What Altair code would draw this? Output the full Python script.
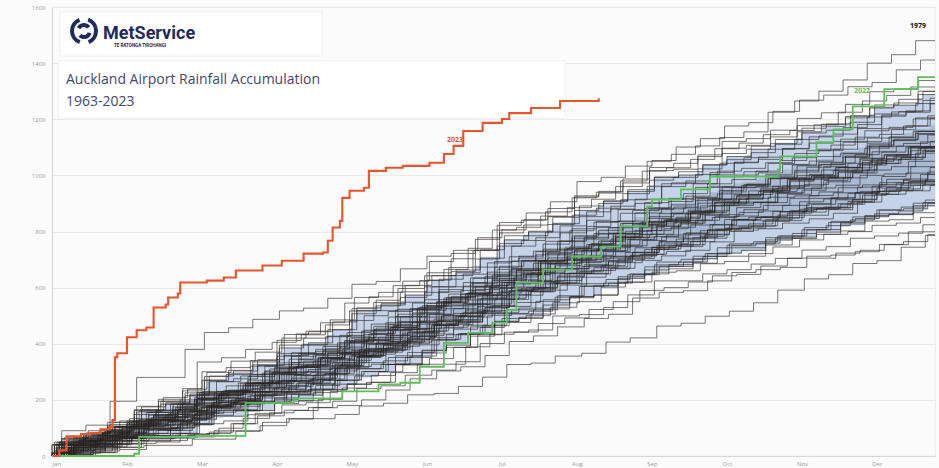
import altair as alt
import numpy as np
import pandas as pd

# ---------------------------------------------------------------------------
# Auckland Airport rain record, summarised as dekadal totals (three periods a
# month, 36 a year) for every complete year 1963-2021.
# ---------------------------------------------------------------------------
YEARS = list(range(1963, 2022))

# first day (day-of-year, 0-based) of each dekad
DEKAD_START = [0, 10, 20, 31, 41, 51, 59, 69, 79, 90, 100, 110,
               120, 130, 140, 151, 161, 171, 181, 191, 201, 212, 222, 232,
               243, 253, 263, 273, 283, 293, 304, 314, 324, 334, 344, 354]

# day within each dekad on which that year's main fall arrived
STORM_OFFSET = [3, 8, 5, 1, 9, 6, 2, 7, 4, 0, 6, 2, 9, 4, 1, 7, 3, 8, 5, 0,
                4, 9, 2, 6, 8, 1, 5, 3, 7, 0, 2, 7, 4, 9, 6, 3, 8, 1, 5, 0,
                8, 3, 6, 1, 9, 4, 7, 2, 5, 0, 5, 1, 8, 3, 6, 9, 2, 7, 4]

RAIN_1960S = [
    [12, 46, 12, 4, 18, 53, 30, 8, 33, 50, 20, 8, 62, 15, 35, 40, 22, 88, 25, 15, 71, 30, 40, 12, 55, 11, 25, 20, 18, 44, 5, 14, 50, 28, 12, 48],  # 1963
    [3, 15, 5, 30, 10, 5, 22, 0, 30, 12, 40, 8, 20, 35, 40, 28, 15, 40, 50, 20, 32, 30, 15, 58, 20, 6, 35, 30, 10, 8, 40, 4, 12, 26, 10, 25],     # 1964
    [40, 5, 20, 50, 12, 18, 35, 20, 30, 40, 30, 42, 25, 48, 20, 70, 20, 35, 58, 30, 50, 42, 25, 36, 33, 17, 40, 24, 30, 16, 30, 40, 12, 41, 20, 15],  # 1965
    [20, 10, 12, 25, 30, 14, 50, 10, 18, 35, 12, 38, 42, 55, 20, 38, 30, 36, 40, 12, 44, 60, 10, 28, 30, 10, 35, 45, 7, 20, 38, 5, 20, 30, 28, 20],  # 1966
    [50, 8, 40, 22, 45, 25, 40, 8, 65, 30, 25, 30, 60, 20, 42, 75, 20, 50, 40, 22, 78, 45, 40, 20, 60, 12, 30, 45, 10, 38, 20, 6, 60, 30, 14, 50],  # 1967
    [30, 10, 65, 70, 15, 30, 45, 10, 48, 110, 10, 35, 50, 10, 70, 35, 10, 82, 50, 16, 50, 40, 18, 40, 45, 7, 36, 30, 14, 30, 40, 10, 28, 30, 8, 40],  # 1968
    [10, 5, 25, 5, 5, 30, 35, 10, 22, 40, 10, 38, 20, 8, 62, 50, 20, 40, 45, 10, 48, 30, 5, 60, 30, 12, 28, 20, 10, 45, 15, 5, 35, 20, 8, 40],     # 1969
]
RAIN_1970S = [
    [40, 10, 30, 35, 10, 22, 30, 8, 60, 20, 8, 52, 55, 15, 45, 48, 10, 75, 40, 8, 66, 45, 10, 38, 40, 10, 44, 25, 5, 52, 30, 5, 28, 36, 10, 38],   # 1970
    [90, 20, 85, 85, 0, 100, 60, 17, 30, 30, 10, 35, 50, 10, 45, 45, 10, 50, 60, 10, 40, 45, 10, 50, 30, 5, 45, 30, 10, 30, 40, 5, 28, 30, 10, 50],  # 1971
    [8, 30, 27, 52, 8, 15, 12, 45, 28, 42, 20, 35, 38, 52, 18, 25, 40, 45, 60, 15, 40, 12, 48, 37, 38, 20, 30, 10, 35, 18, 30, 22, 10, 35, 5, 45],  # 1972
    [0, 12, 20, 35, 0, 8, 10, 30, 28, 20, 10, 22, 45, 10, 38, 18, 30, 65, 40, 8, 50, 5, 25, 45, 50, 0, 25, 15, 20, 20, 30, 12, 30, 8, 10, 30],     # 1973
    [40, 15, 35, 20, 50, 40, 25, 8, 50, 30, 32, 45, 50, 30, 50, 15, 30, 70, 58, 12, 50, 48, 30, 45, 25, 15, 52, 45, 10, 20, 18, 30, 36, 30, 12, 30],  # 1974
    [35, 0, 18, 8, 20, 50, 40, 15, 10, 25, 30, 38, 12, 50, 45, 60, 10, 35, 20, 30, 58, 40, 20, 28, 16, 20, 30, 42, 5, 20, 15, 20, 40, 28, 12, 20],  # 1975
    [30, 12, 60, 10, 20, 38, 45, 20, 28, 48, 15, 40, 10, 30, 72, 55, 35, 25, 40, 28, 45, 22, 38, 52, 35, 10, 38, 40, 25, 25, 8, 20, 45, 38, 24, 20],  # 1976
    [28, 30, 15, 20, 5, 50, 38, 22, 20, 10, 20, 60, 48, 15, 40, 60, 20, 40, 30, 22, 70, 38, 10, 35, 22, 20, 35, 30, 15, 25, 25, 0, 38, 10, 20, 45],  # 1977
    [60, 10, 15, 40, 25, 10, 30, 15, 40, 45, 8, 30, 45, 20, 50, 22, 20, 78, 55, 35, 25, 30, 20, 42, 48, 20, 20, 35, 10, 35, 30, 25, 15, 35, 20, 22],  # 1978
    [50, 20, 50, 45, 30, 45, 60, 15, 25, 72, 20, 35, 50, 30, 50, 45, 30, 60, 90, 18, 30, 50, 20, 40, 70, 25, 30, 30, 20, 70, 40, 35, 40, 60, 30, 50],  # 1979
]
RAIN_1980S = [
    [20, 5, 30, 15, 30, 12, 50, 0, 28, 6, 30, 45, 30, 25, 30, 60, 20, 28, 42, 15, 50, 35, 10, 30, 30, 15, 30, 28, 10, 25, 22, 30, 10, 30, 5, 20],   # 1980
    [45, 10, 20, 55, 8, 20, 20, 20, 62, 35, 30, 20, 70, 8, 30, 25, 30, 68, 50, 20, 38, 15, 30, 60, 38, 20, 22, 35, 28, 20, 10, 20, 45, 32, 15, 25],  # 1981
    [10, 0, 22, 30, 0, 12, 5, 20, 35, 20, 8, 40, 40, 20, 35, 30, 0, 62, 45, 8, 30, 20, 30, 28, 40, 10, 20, 22, 5, 30, 28, 0, 18, 10, 20, 46],      # 1982
    [38, 25, 30, 25, 10, 50, 45, 5, 30, 68, 12, 28, 55, 35, 40, 48, 20, 40, 72, 20, 30, 58, 20, 25, 50, 8, 30, 42, 10, 20, 45, 5, 30, 40, 20, 28],  # 1983
    [65, 20, 20, 50, 30, 42, 38, 20, 35, 48, 12, 50, 70, 15, 30, 85, 18, 40, 60, 30, 42, 50, 20, 25, 55, 10, 30, 35, 20, 30, 42, 10, 20, 48, 15, 25],  # 1984
    [30, 15, 10, 45, 0, 18, 55, 10, 30, 30, 20, 28, 50, 22, 40, 40, 30, 40, 45, 15, 40, 38, 20, 30, 35, 12, 30, 28, 6, 30, 30, 10, 15, 38, 10, 20],  # 1985
    [8, 48, 14, 38, 40, 15, 12, 18, 60, 45, 10, 25, 20, 48, 52, 15, 30, 62, 58, 8, 40, 26, 40, 40, 10, 45, 40, 38, 0, 30, 12, 30, 35, 30, 15, 30],  # 1986
    [20, 35, 70, 30, 30, 15, 10, 50, 35, 50, 18, 40, 42, 30, 50, 25, 40, 50, 70, 20, 35, 8, 40, 62, 40, 20, 35, 15, 30, 38, 35, 20, 28, 10, 30, 36],  # 1987
    [50, 5, 30, 40, 20, 40, 150, 15, 30, 25, 30, 40, 70, 22, 40, 18, 40, 75, 65, 10, 40, 30, 30, 45, 55, 12, 30, 38, 20, 30, 15, 20, 45, 40, 20, 30],  # 1988
    [15, 20, 42, 20, 0, 30, 48, 15, 40, 8, 30, 45, 60, 10, 30, 22, 50, 48, 55, 12, 50, 40, 5, 30, 18, 30, 30, 40, 8, 20, 35, 10, 20, 25, 12, 30],   # 1989
]
RAIN_1990S = [
    [42, 30, 30, 15, 20, 28, 55, 5, 35, 30, 32, 48, 38, 40, 30, 58, 20, 45, 18, 30, 72, 55, 15, 25, 20, 30, 45, 35, 12, 30, 30, 20, 28, 38, 20, 25],  # 1990
    [28, 5, 30, 50, 10, 12, 40, 2, 30, 18, 30, 55, 45, 25, 35, 50, 12, 30, 68, 10, 30, 22, 30, 48, 35, 15, 25, 10, 20, 38, 25, 2, 30, 40, 10, 20],  # 1991
    [40, 0, 28, 45, 20, 40, 35, 8, 40, 40, 20, 35, 30, 32, 45, 70, 10, 40, 30, 30, 55, 42, 18, 40, 20, 25, 38, 40, 12, 20, 38, 12, 30, 30, 15, 25],  # 1992
    [15, 10, 20, 22, 5, 35, 35, 0, 20, 45, 10, 20, 20, 30, 42, 38, 20, 40, 52, 15, 30, 40, 10, 45, 30, 18, 20, 25, 0, 40, 28, 10, 12, 35, 5, 25],   # 1993
    [5, 20, 18, 38, 10, 20, 45, 5, 30, 28, 20, 30, 42, 28, 30, 45, 22, 30, 10, 30, 60, 48, 15, 20, 42, 10, 20, 35, 8, 20, 30, 18, 20, 25, 10, 25],   # 1994
    [60, 20, 25, 72, 8, 30, 55, 35, 30, 50, 12, 30, 80, 28, 30, 62, 30, 45, 55, 28, 40, 50, 25, 35, 48, 10, 30, 55, 15, 20, 42, 20, 30, 38, 15, 30],  # 1995
    [35, 30, 20, 42, 10, 20, 48, 25, 30, 40, 32, 30, 50, 35, 30, 48, 18, 40, 70, 15, 30, 55, 20, 30, 42, 18, 30, 38, 12, 20, 40, 15, 20, 45, 18, 20],  # 1996
    [22, 15, 25, 18, 0, 35, 30, 20, 25, 38, 8, 20, 55, 15, 25, 62, 20, 25, 50, 8, 30, 58, 12, 30, 35, 10, 20, 40, 5, 20, 30, 15, 20, 22, 10, 30],   # 1997
    [20, 30, 38, 60, 15, 30, 10, 30, 58, 65, 10, 30, 25, 30, 72, 60, 20, 30, 32, 30, 70, 45, 25, 30, 20, 30, 42, 38, 18, 30, 35, 10, 30, 15, 30, 42],  # 1998
    [38, 5, 20, 30, 25, 30, 42, 8, 30, 20, 30, 45, 35, 28, 40, 55, 18, 30, 60, 12, 40, 40, 15, 30, 38, 12, 30, 35, 10, 20, 28, 20, 20, 35, 8, 30],  # 1999
]
RAIN_2000S = [
    [15, 30, 35, 28, 20, 30, 60, 12, 20, 45, 25, 30, 18, 30, 62, 70, 15, 25, 55, 20, 40, 20, 30, 45, 40, 18, 30, 35, 12, 30, 38, 10, 20, 40, 15, 30],  # 2000
    [30, 10, 30, 35, 5, 20, 38, 20, 30, 12, 30, 35, 60, 15, 30, 22, 30, 62, 48, 25, 30, 42, 20, 30, 35, 8, 30, 30, 15, 20, 32, 8, 20, 35, 10, 20],  # 2001
    [40, 25, 30, 30, 12, 30, 35, 18, 30, 60, 8, 30, 22, 30, 58, 65, 25, 30, 20, 30, 68, 45, 12, 30, 48, 10, 30, 38, 15, 30, 35, 10, 30, 32, 12, 30],  # 2002
    [52, 10, 20, 48, 25, 30, 40, 5, 30, 58, 20, 30, 32, 30, 45, 72, 30, 30, 52, 28, 30, 62, 15, 30, 40, 20, 30, 42, 5, 30, 38, 15, 30, 30, 10, 30],  # 2003
    [45, 32, 30, 55, 40, 30, 38, 20, 30, 45, 30, 30, 58, 35, 30, 55, 40, 30, 75, 20, 30, 60, 25, 30, 48, 12, 30, 40, 20, 30, 35, 12, 30, 38, 18, 30],  # 2004
    [28, 5, 30, 40, 10, 20, 45, 8, 30, 35, 22, 30, 48, 25, 30, 60, 12, 30, 50, 28, 30, 40, 18, 30, 32, 10, 30, 35, 8, 20, 30, 15, 20, 28, 15, 20],  # 2005
    [38, 15, 30, 50, 8, 20, 42, 25, 30, 40, 18, 30, 65, 10, 30, 58, 40, 30, 52, 30, 30, 48, 10, 30, 45, 12, 30, 38, 15, 20, 40, 12, 20, 35, 12, 30],  # 2006
    [30, 12, 30, 35, 18, 30, 40, 0, 30, 52, 15, 30, 55, 32, 30, 45, 28, 30, 60, 18, 30, 52, 10, 30, 38, 15, 30, 30, 18, 20, 35, 10, 20, 38, 12, 20],  # 2007
    [62, 20, 30, 45, 38, 30, 58, 12, 30, 70, 25, 30, 75, 30, 30, 68, 50, 30, 62, 28, 30, 70, 20, 30, 55, 15, 30, 48, 10, 30, 42, 20, 30, 45, 10, 30],  # 2008
    [5, 25, 33, 30, 30, 12, 48, 20, 15, 12, 28, 55, 45, 40, 20, 52, 8, 40, 15, 62, 30, 50, 30, 8, 25, 15, 35, 32, 20, 10, 8, 20, 35, 30, 30, 8],    # 2009
]
RAIN_2010S = [
    [48, 30, 10, 35, 40, 15, 20, 30, 42, 45, 50, 10, 52, 10, 60, 22, 40, 55, 58, 40, 25, 8, 48, 44, 45, 25, 15, 12, 30, 38, 35, 30, 12, 18, 40, 20],  # 2010
    [65, 25, 30, 40, 48, 30, 60, 40, 32, 50, 25, 40, 80, 18, 40, 70, 40, 45, 28, 60, 40, 72, 15, 40, 20, 48, 30, 45, 12, 40, 40, 18, 30, 15, 45, 35],  # 2011
    [12, 28, 20, 45, 5, 30, 40, 40, 8, 30, 10, 45, 20, 50, 25, 62, 30, 20, 15, 55, 33, 45, 12, 30, 8, 38, 32, 35, 20, 10, 12, 32, 16, 30, 5, 30],  # 2012
    [18, 0, 25, 12, 0, 20, 5, 35, 37, 30, 8, 40, 55, 15, 25, 22, 40, 45, 58, 10, 30, 20, 52, 18, 35, 5, 25, 8, 28, 24, 25, 20, 10, 22, 8, 20],     # 2013
    [42, 10, 25, 20, 50, 20, 38, 15, 40, 8, 48, 34, 60, 25, 30, 30, 68, 20, 62, 20, 32, 15, 45, 35, 42, 8, 30, 20, 40, 15, 38, 12, 30, 10, 35, 30],  # 2014
    [35, 20, 10, 8, 28, 37, 52, 10, 30, 38, 20, 30, 15, 45, 47, 55, 28, 20, 60, 10, 40, 12, 42, 33, 38, 30, 12, 35, 10, 20, 15, 35, 17, 30, 20, 18],  # 2015
    [50, 12, 30, 18, 38, 37, 45, 20, 40, 42, 30, 20, 22, 58, 43, 52, 20, 40, 25, 55, 37, 50, 30, 15, 18, 48, 24, 38, 10, 30, 15, 35, 30, 38, 20, 22],  # 2016
    [55, 18, 30, 62, 20, 30, 70, 18, 40, 15, 45, 47, 68, 25, 30, 30, 60, 42, 65, 28, 30, 25, 55, 35, 50, 20, 25, 18, 48, 24, 40, 15, 30, 38, 20, 28],  # 2017
    [48, 25, 30, 42, 30, 30, 10, 45, 40, 55, 18, 30, 30, 62, 28, 70, 25, 30, 20, 60, 38, 52, 18, 30, 15, 45, 35, 40, 8, 30, 12, 42, 28, 45, 10, 28],  # 2018
    [22, 0, 30, 25, 15, 25, 35, 12, 30, 8, 30, 37, 50, 8, 30, 20, 55, 28, 52, 15, 30, 10, 40, 32, 35, 8, 30, 30, 0, 28, 5, 32, 20, 30, 5, 30],     # 2019
]
RAIN_2020S = [
    [12, 0, 18, 8, 0, 22, 0, 28, 20, 25, 0, 15, 30, 10, 30, 5, 25, 33, 45, 5, 25, 10, 40, 15, 42, 10, 25, 18, 30, 45, 40, 15, 40, 10, 48, 42],     # 2020
    [40, 10, 20, 52, 8, 30, 15, 45, 20, 50, 28, 30, 12, 42, 48, 55, 30, 38, 25, 50, 37, 48, 15, 30, 12, 42, 28, 38, 20, 25, 10, 35, 30, 32, 15, 30],  # 2021
]

# 2022 and 2023 accumulations: (day of year, running total in mm)
DAY_2022 = [0, 34, 36, 60, 80, 100, 120, 135, 144, 152, 162, 172, 182, 188, 192, 203, 215,
            227, 235, 246, 248, 260, 272, 300, 301, 316, 323, 331, 344, 358, 365]
MM_2022 = [0, 8, 68, 72, 189, 205, 230, 255, 261, 318, 403, 439, 475, 521, 618, 664, 711,
           746, 818, 889, 914, 950, 996, 1021, 1068, 1118, 1164, 1246, 1307, 1350, 1350]

DAY_2023 = [0, 3, 6, 12, 16, 20, 24, 25, 26, 27, 31, 35, 39, 42, 47, 48, 52, 53, 64, 71, 76,
            87, 95, 104, 112, 114, 116, 119, 120, 123, 129, 131, 138, 145, 156, 162, 166,
            170, 178, 186, 189, 198, 210, 226]
MM_2023 = [0, 20, 70, 78, 82, 95, 103, 128, 352, 366, 423, 448, 458, 529, 540, 565, 579, 618,
           625, 636, 661, 679, 696, 721, 725, 767, 814, 838, 920, 945, 956, 1016, 1027, 1034,
           1045, 1076, 1105, 1158, 1187, 1201, 1222, 1240, 1265, 1275]

MONTHS = ["Jan", "Feb", "Mar", "Apr", "May", "Jun",
          "Jul", "Aug", "Sep", "Oct", "Nov", "Dec"]
MONTH_TICKS = [0, 31, 62, 93, 124, 155, 186, 217, 248, 279, 310, 341]
Y_TICKS = [0, 200, 400, 600, 800, 1000, 1200, 1400, 1600]

# year labels placed beside the lines they name
LABEL_TEXT = ["2023", "2022", "1979"]
LABEL_DAY = [166.6, 334.8, 358]
LABEL_MM = [1125, 1300, 1532]
LABEL_COLOR = ["#e8552d", "#5cbf5c", "#111111"]

# ---------------------------------------------------------------------------
# Build tables
# ---------------------------------------------------------------------------
all_rain = RAIN_1960S + RAIN_1970S + RAIN_1980S + RAIN_1990S + RAIN_2000S + RAIN_2010S + RAIN_2020S

rows = []
days_grid = np.arange(0, 366)
daily = []
for year, rain, off in zip(YEARS, all_rain, STORM_OFFSET):
    ev_days = [0]
    ev_tot = [0]
    total = 0
    for start, r in zip(DEKAD_START, rain):
        total += r
        ev_days.append(min(start + off, 364))
        ev_tot.append(total)
    ev_days.append(365)
    ev_tot.append(total)
    for d, t in zip(ev_days, ev_tot):
        rows.append({"year": year, "day": d, "mm": t})
    idx = np.searchsorted(np.array(ev_days), days_grid, side="right") - 1
    daily.append(np.array(ev_tot)[idx])

lines_df = pd.DataFrame(rows)
daily = np.array(daily)
band_df = pd.DataFrame({
    "day": days_grid,
    "p10": np.percentile(daily, 10, axis=0),
    "p25": np.percentile(daily, 25, axis=0),
    "p75": np.percentile(daily, 75, axis=0),
    "p90": np.percentile(daily, 90, axis=0),
})
y2022 = pd.DataFrame({"day": DAY_2022, "mm": MM_2022})
y2023 = pd.DataFrame({"day": DAY_2023, "mm": MM_2023})
labels_df = pd.DataFrame({"text": LABEL_TEXT, "day": LABEL_DAY, "mm": LABEL_MM, "color": LABEL_COLOR})

# ---------------------------------------------------------------------------
# Encodings shared by every layer
# ---------------------------------------------------------------------------
month_expr = "[" + ",".join(f"'{m}'" for m in MONTHS) + "][round(datum.value / 31)]"
x_axis = alt.Axis(values=MONTH_TICKS, labelExpr=month_expr, grid=False, ticks=False,
                  domainColor="#d6d6d6", labelFontSize=6, labelColor="#9a9a9a",
                  labelPadding=4, title=None, labelFont="Open Sans")
y_axis = alt.Axis(values=Y_TICKS, format="d", grid=True, gridColor="#ebebeb", ticks=False,
                  domainColor="#d6d6d6", labelFontSize=6, labelColor="#9a9a9a",
                  labelPadding=7, title=None, labelFont="Open Sans")
x_scale = alt.Scale(domain=[0, 365], nice=False, zero=False)
y_scale = alt.Scale(domain=[0, 1600], nice=False)


def X(field="day"):
    return alt.X(f"{field}:Q", scale=x_scale, axis=x_axis)


def Y(field):
    return alt.Y(f"{field}:Q", scale=y_scale, axis=y_axis)


# header panels: logo and title (drawn first so the lines pass over them)
panel = alt.Chart(pd.DataFrame({"k": [0]}))
logo_box = panel.mark_rect(color="white", stroke="#eeeeee", strokeWidth=0.8).encode(
    x=alt.value(8), x2=alt.value(270), y=alt.value(5), y2=alt.value(49))
title_box = panel.mark_rect(color="white", stroke="#eeeeee", strokeWidth=0.8).encode(
    x=alt.value(6), x2=alt.value(513), y=alt.value(54), y2=alt.value(111))

outer_band = alt.Chart(band_df).mark_area(interpolate="step-after", color="#c4d3e9").encode(
    x=X(), y=Y("p10"), y2="p90")
inner_band = alt.Chart(band_df).mark_area(interpolate="step-after", color="#a8bad4").encode(
    x=X(), y=Y("p25"), y2="p75")

history = alt.Chart(lines_df).mark_line(
    interpolate="step-after", color="#2a2522", strokeWidth=1.0, opacity=0.62
).encode(x=X(), y=Y("mm"), detail="year:N")

line_2022 = alt.Chart(y2022).mark_line(
    interpolate="step-after", color="#5cbf5c", strokeWidth=1.8
).encode(x=X(), y=Y("mm"))
line_2023 = alt.Chart(y2023).mark_line(
    interpolate="step-after", color="#e8552d", strokeWidth=2.1
).encode(x=X(), y=Y("mm"))

year_labels = alt.Chart(labels_df).mark_text(
    fontSize=7, fontWeight="bold", font="Open Sans"
).encode(x=X(), y=Y("mm"), text="text:N", color=alt.Color("color:N", scale=None))

NAVY = "#1e2b5c"
swirl = []
for th, th2, r1, r2 in [(0.35, 2.75, 10.0, 14.0), (3.5, 5.9, 10.0, 14.0),
                        (5.2, 7.2, 4.0, 8.0), (1.9, 3.9, 4.0, 8.0)]:
    swirl.append(panel.mark_arc(color=NAVY, theta=th, theta2=th2,
                                radius=r2, radius2=r1).encode(
        x=alt.value(32), y=alt.value(24)))

brand = panel.mark_text(text="MetService", font="Roboto", fontSize=18, fontWeight="bold",
                        color=NAVY, align="left", baseline="alphabetic").encode(
    x=alt.value(51), y=alt.value(32))
tagline = panel.mark_text(text="TE RATONGA TIROHANGI", font="Roboto", fontSize=4.5,
                          fontWeight="bold", color=NAVY, align="left").encode(
    x=alt.value(62), y=alt.value(39))
title1 = panel.mark_text(text="Auckland Airport Rainfall Accumulation", font="Open Sans",
                         fontSize=14, color="#44476e", align="left",
                         baseline="alphabetic").encode(x=alt.value(14), y=alt.value(77))
title2 = panel.mark_text(text="1963-2023", font="Open Sans", fontSize=14, color="#44476e",
                         align="left", baseline="alphabetic").encode(
    x=alt.value(14), y=alt.value(99))

chart = alt.layer(
    logo_box, title_box,
    outer_band, inner_band, history, line_2022, line_2023, year_labels,
    *swirl, brand, tagline, title1, title2
).properties(
    width=883, height=449, background="#fbfbfb",
    padding={"left": 52, "top": 7, "right": 4, "bottom": 12},
    autosize=alt.AutoSizeParams(type="none"),
).configure_view(stroke="#e3e3e3", strokeWidth=0.8)

chart.save("out.html", embed_options={"renderer": "svg", "actions": False})
